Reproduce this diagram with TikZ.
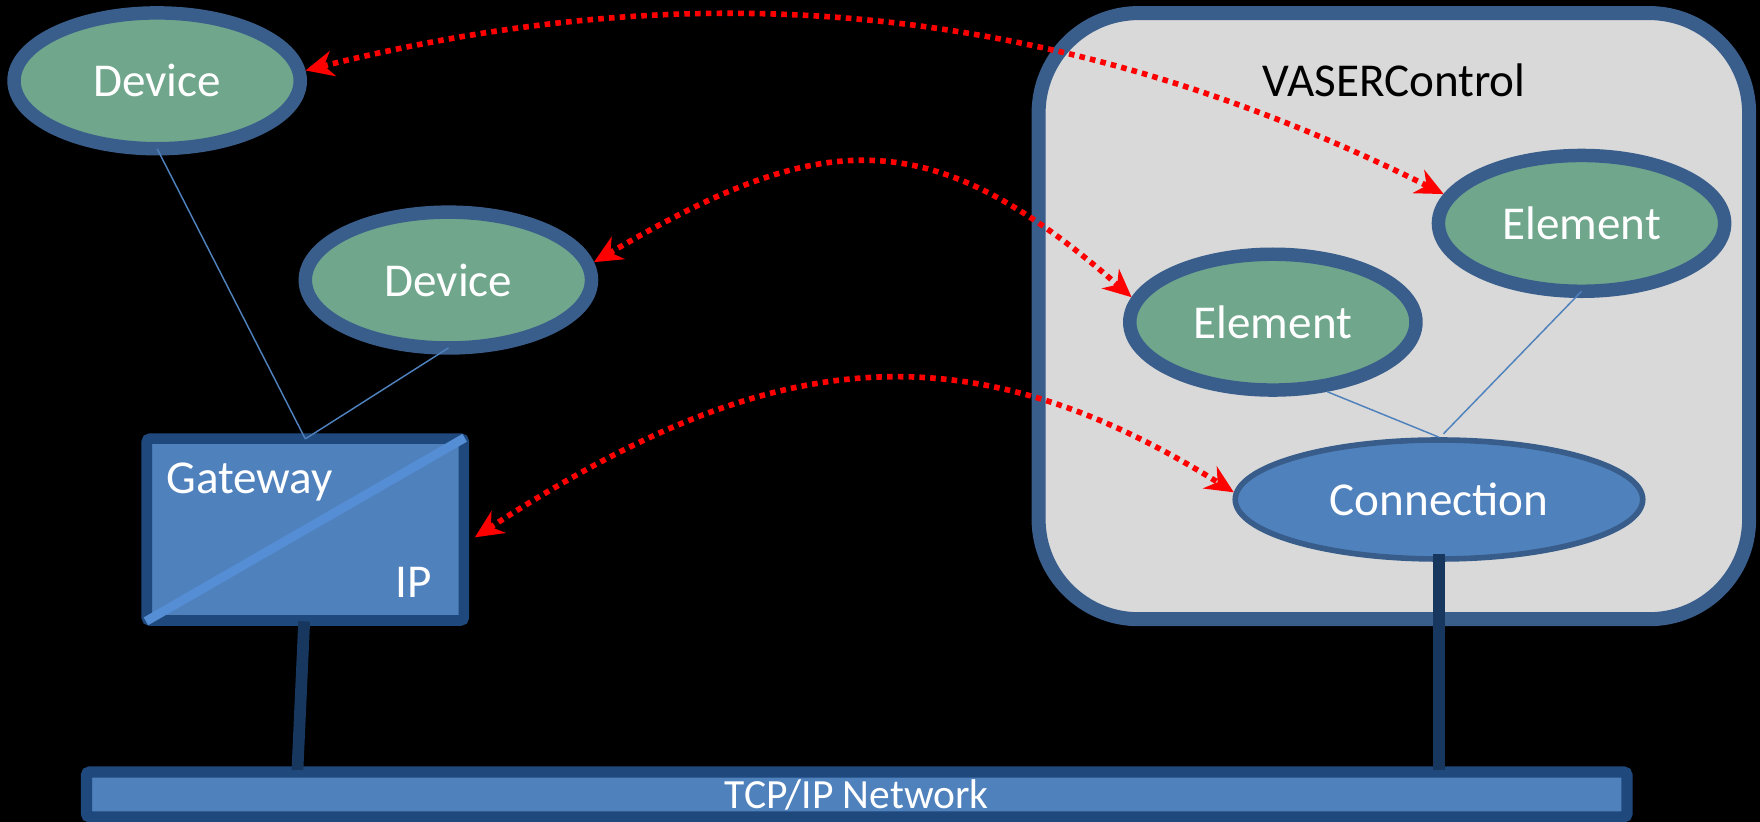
\documentclass[tikz,border=0pt]{standalone}
\usepackage{fontspec}
\setmainfont{Carlito}
\usetikzlibrary{arrows.meta,shapes.geometric}
\definecolor{greenfill}{RGB}{111,166,140}
\definecolor{ellborder}{RGB}{58,94,140}
\definecolor{boxgray}{RGB}{217,217,217}
\definecolor{midblue}{RGB}{79,129,189}
\definecolor{darkblue}{RGB}{31,73,125}
\definecolor{connborder}{RGB}{56,93,138}
\definecolor{diagblue}{RGB}{85,142,213}
\definecolor{stemblue}{RGB}{23,55,94}
\begin{document}
\begin{tikzpicture}[x=1pt,y=-1pt,inner sep=0pt,
  bigfont/.style={font=\fontsize{42}{50}\selectfont},
  greenell/.style={ellipse,draw=ellborder,fill=greenfill,line width=12pt,
    minimum width=255pt,minimum height=121pt,text=white,bigfont},
  connell/.style={ellipse,draw=connborder,fill=midblue,line width=5pt,
    minimum width=363pt,minimum height=106pt,text=white,bigfont},
  bigbox/.style={rectangle,draw=ellborder,fill=boxgray,line width=12.5pt,
    rounded corners=89pt,minimum width=633pt,minimum height=540pt},
  gwbox/.style={rectangle,draw=darkblue,fill=midblue,line width=9.5pt,
    rounded corners=3pt,minimum width=282.5pt,minimum height=162pt},
  netbar/.style={rectangle,draw=darkblue,fill=midblue,line width=10pt,
    rounded corners=3pt,minimum width=1372.5pt,minimum height=40pt,
    text=white,font=\fontsize{37}{44}\selectfont,text height=30pt,text depth=4.4pt},
  lbl/.style={text=white,bigfont},
  titletext/.style={text=black,bigfont},
  diag/.style={draw=diagblue,line width=8pt},
  stem/.style={draw=stemblue,line width=10.5pt},
  fineline/.style={draw=midblue,line width=1.3pt},
  redarrow/.style={draw=red,line width=5pt,dash pattern=on 5pt off 4.6pt,
    >={Stealth[length=25pt,width=23pt,inset=8pt]},<->}
]
\fill[black] (0,0) rectangle (1568,732.3);
\useasboundingbox (0,0) rectangle (1568,732.3);

% containers and nodes
\node[bigbox] (vaser) at (1241.8,281.65) {};
\node[titletext,anchor=base] (vtitle) at (1242,86) {VASERControl};
\node[netbar] (bar) at (763.25,707.75) {TCP/IP Network};
\node[gwbox] (gw) at (272,471.8) {};
\draw[diag] ([xshift=4pt,yshift=4pt]gw.south west) -- ([xshift=-4pt,yshift=-4pt]gw.north east);
\node[lbl,anchor=base west] (gwtext) at (148,439.5) {Gateway};
\node[lbl,anchor=base west] (iptext) at (352,532) {IP};
\node[greenell] (dev1) at (140,72) {Device};
\node[greenell] (dev2) at (399.5,249.5) {Device};
\node[greenell] (el1) at (1409,199) {Element};
\node[greenell] (el2) at (1134,287) {Element};
\node[connell] (conn) at (1282,445) {Connection};

% stems to the network
\coordinate (gwfoot) at (265,686);
\coordinate (connfoot) at (1282,686);
\draw[stem] ([xshift=-1pt,yshift=4pt]gw.south) -- (gwfoot);
\draw[stem] ([yshift=7pt]conn.south) -- (connfoot);

% thin links
\draw[fineline] ([yshift=6pt]dev1.south) -- ([yshift=-5pt]gw.north);
\draw[fineline] ([yshift=6pt]dev2.south) -- ([yshift=-5pt]gw.north);
\draw[fineline] (el2.-52) -- (conn.north);
\draw[fineline] ([yshift=6pt]el1.south) -- ([xshift=4pt,yshift=3pt]conn.north);

% red dotted double arrows
\draw[redarrow] (dev1.4) .. controls (563,-10) and (889,-25) .. (el1.168);
\draw[redarrow] (dev2.7) .. controls (733,114) and (828,107) .. (el2.170);
\draw[redarrow,shorten <=6pt] (gw.-4) .. controls (674,316) and (850,283) .. (conn.178);
\end{tikzpicture}
\end{document}
